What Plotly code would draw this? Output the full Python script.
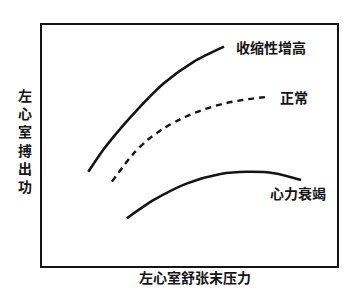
import plotly.graph_objects as go

# Curve data (arbitrary units, 0-100 on both axes)
contract_x = [15.7, 20.7, 24.3, 32.2, 41.3, 51.5, 61.7]
contract_y = [39.1, 48.1, 53.7, 64.7, 75.8, 84.8, 91.0]

normal_x = [23.7, 31.1, 36.0, 41.3, 47.0, 54.0, 61.0, 68.5, 76.4]
normal_y = [35.0, 46.8, 52.5, 57.1, 61.0, 64.6, 67.2, 69.0, 70.2]

failure_x = [28.8, 37.9, 49.2, 60.5, 69.6, 78.7, 87.8]
failure_y = [19.8, 27.4, 34.3, 38.2, 39.1, 38.5, 35.7]

labels = ["收缩性增高", "正常", "心力衰竭"]
x_title = "左心室舒张末压力"
y_title = "左心室搏出功"

FONT = "Noto Sans CJK SC"
INK = "#141414"

fig = go.Figure()
fig.add_trace(go.Scatter(x=contract_x, y=contract_y, mode="lines",
                         line=dict(color=INK, width=2.6, shape="spline", smoothing=0.8)))
fig.add_trace(go.Scatter(x=normal_x, y=normal_y, mode="lines",
                         line=dict(color=INK, width=2.4, shape="spline", smoothing=0.8,
                                   dash="6px,5px")))
fig.add_trace(go.Scatter(x=failure_x, y=failure_y, mode="lines",
                         line=dict(color=INK, width=2.6, shape="spline", smoothing=0.8)))

label_pos = [(65.0, 90.9), (79.9, 70.1), (76.5, 30.3)]
for (lx, ly), t in zip(label_pos, labels):
    fig.add_annotation(x=lx, y=ly, xref="x", yref="y", text="<b>" + t + "</b>",
                       showarrow=False, xanchor="left", yanchor="middle",
                       font=dict(family=FONT, size=14, color=INK))

fig.add_annotation(x=0.52, y=0.005, xref="paper", yref="paper", yanchor="top",
                   text="<b>" + x_title + "</b>", showarrow=False,
                   font=dict(family=FONT, size=14, color=INK))
fig.add_annotation(x=-0.026, y=0.52, xref="paper", yref="paper", xanchor="right",
                   text="<b>" + "<br>".join(y_title) + "</b>", showarrow=False,
                   font=dict(family=FONT, size=14, color=INK))

axis_common = dict(range=[0, 100], showgrid=False, zeroline=False,
                   showticklabels=False, ticks="", showline=True,
                   linecolor=INK, linewidth=2, mirror=True, fixedrange=True)
fig.update_xaxes(**axis_common)
fig.update_yaxes(**axis_common)

fig.update_layout(width=364, height=300, showlegend=False,
                  margin=dict(l=42, r=27, t=25, b=34),
                  paper_bgcolor="white", plot_bgcolor="white")

fig.write_html("out.html", config={"displayModeBar": False})
